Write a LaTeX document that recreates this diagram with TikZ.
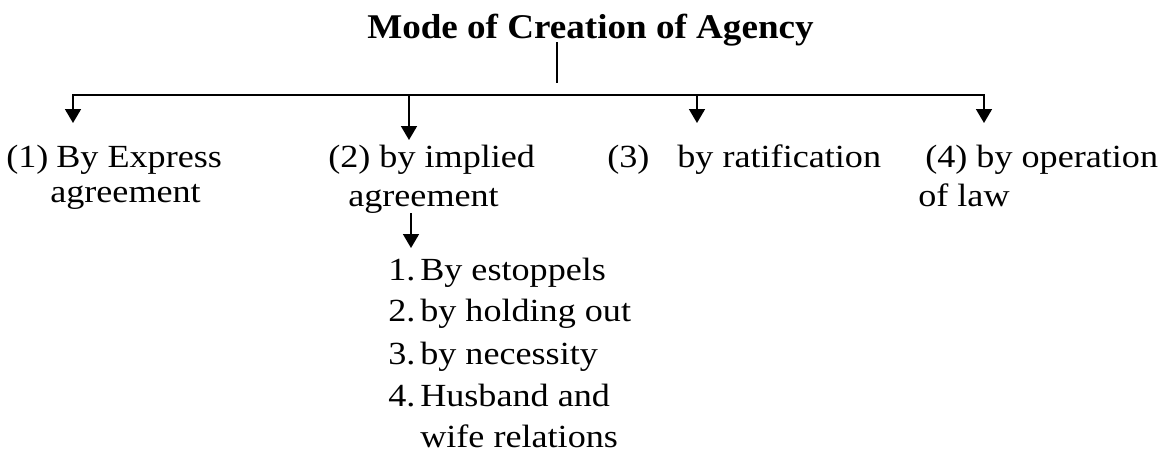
\documentclass[tikz,border=0pt]{standalone}
\usepackage{fontspec}
\setmainfont[FakeStretch=1.12]{Liberation Serif}
\newfontfamily\titlefont[FakeStretch=1.07]{Liberation Serif}
\usetikzlibrary{arrows.meta}
\begin{document}
\begin{tikzpicture}[x=0.75pt,y=-0.75pt,
  txt/.style={anchor=base west,inner sep=0pt,font=\fontsize{24.2}{29}\selectfont},
  ln/.style={line width=1.3pt},
  arr/.style={ln,-{Triangle[width=12pt,length=10.5pt]}}]
\useasboundingbox (0,0) rectangle (1175,457);
% title
\node[anchor=base west,inner sep=0pt,font=\titlefont\bfseries\fontsize{26}{30}\selectfont] (title) at (367,38) {Mode of Creation of Agency};
\coordinate (tb) at (557,83);
\draw[ln] ([yshift=-3pt]title.base -| tb) -- (tb);
% bus line
\coordinate (h1) at (73,95);
\coordinate (h2) at (409,95);
\coordinate (h3) at (697,95);
\coordinate (h4) at (984,95);
\coordinate (a1) at (73,123);
\coordinate (a2) at (409,140);
\coordinate (a3) at (697,123);
\coordinate (a4) at (984,123);
\draw[arr] (h3) -- (h1) -- (a1);
\draw[arr] (h3) -- (h4) -- (a4);
\draw[arr] (h2) -- (a2);
\draw[arr] (h3) -- (a3);
% branches
\node[txt] (n1) at (6,167) {(1)\hspace{6pt}By Express};
\node[txt] (n1b) at (50,202) {agreement};
\node[txt] (n2) at (328,167) {(2) by implied};
\node[txt] (n2b) at (348,206) {agreement};
\node[txt] (n3) at (607,167) {(3)\hspace{21pt}by ratification};
\node[txt] (n4) at (925,167) {(4) by operation};
\node[txt] (n4b) at (918,206) {of law};
% sub arrow
\coordinate (s0) at (411,213);
\coordinate (s1) at (411,248);
\draw[arr] (s0) -- (s1);
% list
\node[txt] (l1n) at (388,280) {1.};
\node[txt] (l1) at (420,280) {By estoppels};
\node[txt] (l2n) at (388,321) {2.};
\node[txt] (l2) at (420,321) {by holding out};
\node[txt] (l3n) at (388,364) {3.};
\node[txt] (l3) at (420,364) {by necessity};
\node[txt] (l4n) at (388,406) {4.};
\node[txt] (l4) at (420,406) {Husband and};
\node[txt] (l5) at (420,447) {wife relations};
\end{tikzpicture}
\end{document}
